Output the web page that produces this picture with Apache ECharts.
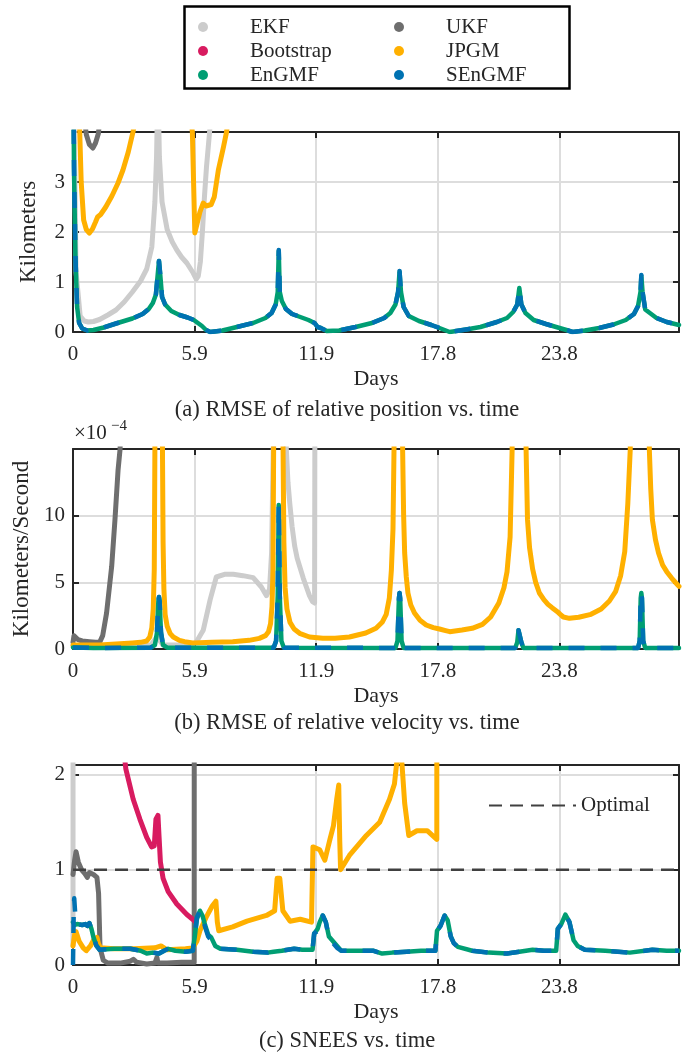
<!DOCTYPE html>
<html><head><meta charset="utf-8">
<script src="https://cdn.jsdelivr.net/npm/echarts@6/dist/echarts.min.js"></script>
<style>html,body{margin:0;padding:0;background:#fff}#c{width:694px;height:1053px}</style>
</head><body><div id="c"></div><script>
// ---------- axis ticks ----------
const xTickValues = [0, 5.94, 11.88, 17.82, 23.76];
const xTickLabels = ['0', '5.9', '11.9', '17.8', '23.8'];
const xMax = 29.6;
const posYTicks = [0, 1, 2, 3];
const velYTicks = [0, 5, 10];
const sneesYTicks = [0, 1, 2];
const captions = ['(a) RMSE of relative position vs. time', '(b) RMSE of relative velocity vs. time', '(c) SNEES vs. time'];
const seriesNames = ['EKF', 'UKF', 'Bootstrap', 'JPGM', 'EnGMF', 'SEnGMF'];

// ---------- (a) RMSE of relative position [km] ----------
const ekfPos = [[0,6],[0.15,1.2],[0.35,0.32],[0.55,0.22],[0.75,0.2],[1.0,0.21],[1.3,0.25],[1.7,0.34],[2.1,0.44],[2.5,0.6],[2.9,0.8],[3.3,1.02],[3.6,1.26],[3.85,1.7],[4.0,2.6],[4.08,3.5],[4.15,5.0],[4.22,3.5],[4.35,2.6],[4.6,2.05],[4.85,1.8],[5.07,1.64],[5.3,1.5],[5.56,1.38],[5.87,1.18],[6.02,1.06],[6.12,1.12],[6.22,1.4],[6.32,2.0],[6.42,2.7],[6.52,3.3],[6.65,3.9],[6.8,4.6],[7.0,6]];
const ukfPos = [[0,10],[0.55,4.3],[0.65,3.95],[0.8,3.75],[0.97,3.68],[1.1,3.78],[1.24,3.97],[1.35,4.4],[1.6,10]];
const jpgmPos = [[0,8],[0.3,4.4],[0.4,3.0],[0.52,2.24],[0.65,2.05],[0.8,1.98],[0.95,2.06],[1.1,2.2],[1.2,2.3],[1.35,2.35],[1.6,2.5],[1.9,2.72],[2.2,2.98],[2.44,3.24],[2.7,3.6],[2.93,4.0],[3.2,4.6],[5.7,4.6],[5.83,4.0],[5.95,1.98],[6.2,2.4],[6.36,2.58],[6.5,2.52],[6.75,2.55],[6.9,2.7],[7.1,3.24],[7.35,3.7],[7.5,4.0],[7.8,5]];
const engmfPos = [[0,6],[0.05,3.2],[0.12,1.5],[0.2,0.5],[0.3,0.18],[0.45,0.07],[0.7,0.03],[1.0,0.04],[1.5,0.09],[2.1,0.17],[2.9,0.27],[3.4,0.36],[3.7,0.46],[3.9,0.58],[4.05,0.75],[4.15,1.2],[4.2,1.42],[4.25,1.2],[4.35,0.7],[4.5,0.55],[4.8,0.42],[5.2,0.34],[5.6,0.29],[5.9,0.24],[6.1,0.18],[6.3,0.12],[6.5,0.04],[6.7,0.0],[7.3,0.03],[8.0,0.1],[8.8,0.18],[9.4,0.28],[9.7,0.38],[9.9,0.55],[10.0,0.8],[10.05,1.62],[10.1,0.8],[10.2,0.62],[10.4,0.46],[10.7,0.36],[11.1,0.3],[11.5,0.24],[11.8,0.18],[11.95,0.1],[12.1,0.08],[12.4,0.02],[13.0,0.03],[13.8,0.1],[14.6,0.18],[15.2,0.28],[15.5,0.38],[15.75,0.55],[15.88,0.8],[15.95,1.2],[16.02,0.8],[16.15,0.5],[16.4,0.32],[16.9,0.22],[17.5,0.14],[17.9,0.08],[18.4,0.0],[19.2,0.05],[19.9,0.1],[20.7,0.2],[21.2,0.28],[21.5,0.4],[21.7,0.55],[21.8,0.88],[21.9,0.55],[22.1,0.38],[22.5,0.24],[23.1,0.16],[23.6,0.1],[24.1,0.04],[24.4,0.0],[25.0,0.03],[25.7,0.08],[26.4,0.15],[27.0,0.24],[27.4,0.36],[27.6,0.52],[27.72,0.8],[27.76,1.12],[27.82,0.8],[27.95,0.45],[28.5,0.28],[29.0,0.2],[29.6,0.14]];
const sengmfPos = [[0,6],[0.05,3.3],[0.12,1.5],[0.2,0.5],[0.3,0.18],[0.45,0.07],[0.7,0.03],[1.0,0.04],[1.5,0.09],[2.1,0.17],[2.9,0.27],[3.4,0.36],[3.7,0.46],[3.9,0.58],[4.05,0.75],[4.15,1.2],[4.2,1.42],[4.25,1.2],[4.35,0.7],[4.5,0.55],[4.8,0.42],[5.2,0.34],[5.6,0.29],[5.9,0.24],[6.1,0.2],[6.3,0.12],[6.5,0.04],[6.7,0.0],[7.3,0.03],[8.0,0.1],[8.8,0.18],[9.4,0.28],[9.7,0.38],[9.9,0.55],[10.0,0.8],[10.05,1.64],[10.1,0.8],[10.2,0.62],[10.4,0.46],[10.7,0.36],[11.1,0.3],[11.5,0.24],[11.8,0.18],[11.95,0.1],[12.1,0.08],[12.4,0.02],[13.0,0.03],[13.8,0.1],[14.6,0.18],[15.2,0.28],[15.5,0.38],[15.75,0.55],[15.88,0.8],[15.95,1.22],[16.02,0.8],[16.15,0.5],[16.4,0.32],[16.9,0.22],[17.5,0.14],[17.9,0.08],[18.4,0.0],[19.2,0.05],[19.9,0.1],[20.7,0.2],[21.2,0.28],[21.5,0.4],[21.7,0.55],[21.8,0.88],[21.9,0.55],[22.1,0.38],[22.5,0.24],[23.1,0.16],[23.6,0.1],[24.1,0.04],[24.4,0.0],[25.0,0.03],[25.7,0.08],[26.4,0.15],[27.0,0.24],[27.4,0.36],[27.6,0.52],[27.72,0.8],[27.76,1.14],[27.82,0.8],[27.95,0.45],[28.5,0.28],[29.0,0.2],[29.6,0.14]];

// ---------- (b) RMSE of relative velocity [x1e-4 km/s] ----------
const ekfVel = [[0,0.2],[2.0,0.2],[3.8,0.3],[4.1,0.9],[4.4,0.3],[5.8,0.3],[6.03,0.55],[6.36,1.4],[6.7,3.7],[7.0,5.4],[7.4,5.6],[7.83,5.6],[8.3,5.5],[8.8,5.35],[9.2,4.65],[9.45,4.0],[9.6,4.5],[9.7,7.2],[9.78,15],[9.85,40],[10.38,40],[10.42,15],[10.5,12.5],[10.59,10.9],[10.7,9.2],[10.83,7.7],[10.95,6.8],[11.07,6.2],[11.25,5.3],[11.4,4.65],[11.55,4.0],[11.7,3.55],[11.8,3.45],[11.84,40]];
const ukfVel = [[0,0.5],[0.05,1.0],[0.12,1.15],[0.25,0.7],[0.45,0.6],[0.8,0.55],[1.1,0.5],[1.3,0.5],[1.45,1.0],[1.64,2.7],[1.89,6.2],[2.05,9.7],[2.2,13.4],[2.3,15],[2.5,25]];
const jpgmVel = [[0,0.3],[1.3,0.3],[2.9,0.45],[3.3,0.5],[3.6,0.6],[3.75,0.9],[3.85,1.6],[3.92,3.0],[3.97,6],[4.0,15],[4.03,40],[4.34,40],[4.37,15],[4.4,8],[4.44,4.5],[4.5,2.6],[4.6,1.7],[4.75,1.15],[4.9,0.9],[5.2,0.65],[5.45,0.55],[5.85,0.45],[6.8,0.5],[7.8,0.55],[8.6,0.65],[9.1,0.8],[9.4,1.0],[9.55,1.3],[9.65,1.9],[9.72,3.2],[9.77,6],[9.8,15],[9.83,40],[10.23,40],[10.26,15],[10.3,8],[10.36,4.6],[10.45,3.0],[10.6,2.0],[10.8,1.5],[11.1,1.15],[11.55,0.9],[12.2,0.8],[12.8,0.8],[13.5,0.9],[14.3,1.2],[14.8,1.55],[15.1,2.0],[15.3,2.6],[15.45,3.8],[15.55,5.9],[15.63,9],[15.68,15],[15.72,40],[16.08,40],[16.1,15],[16.15,10],[16.2,7.2],[16.28,5.4],[16.36,4.2],[16.5,3.3],[16.68,2.7],[16.95,2.15],[17.25,1.8],[17.6,1.6],[17.9,1.5],[18.2,1.38],[18.4,1.3],[19.0,1.42],[19.5,1.55],[20.0,1.85],[20.4,2.4],[20.8,3.45],[21.05,4.6],[21.2,5.8],[21.35,8.4],[21.45,15],[21.48,40],[22.1,40],[22.13,15],[22.2,9.7],[22.3,7.6],[22.45,6.0],[22.6,5.0],[22.78,4.2],[23.0,3.7],[23.2,3.35],[23.4,3.1],[23.66,2.8],[23.8,2.6],[23.95,2.4],[24.25,2.3],[24.7,2.38],[25.3,2.6],[25.8,3.0],[26.2,3.6],[26.5,4.3],[26.75,5.5],[26.95,7.3],[27.1,10.9],[27.22,15],[27.26,40],[28.12,40],[28.15,15],[28.22,12],[28.3,9.7],[28.45,8.2],[28.6,7.2],[28.8,6.3],[29.0,5.8],[29.25,5.3],[29.45,4.95],[29.6,4.7]];
const engmfVel = [[0,0.12],[1.0,0.08],[3.8,0.1],[4.0,0.3],[4.1,1.2],[4.17,3.6],[4.2,3.9],[4.23,3.6],[4.3,1.2],[4.4,0.3],[4.6,0.1],[9.8,0.1],[9.92,0.6],[10.0,4],[10.05,10.8],[10.1,4],[10.18,0.6],[10.3,0.1],[15.75,0.08],[15.85,0.6],[15.92,3.8],[15.95,4.2],[15.98,3.8],[16.05,0.6],[16.15,0.08],[21.6,0.08],[21.7,0.5],[21.76,1.4],[21.8,1.55],[21.84,1.4],[21.9,0.5],[22.0,0.08],[27.6,0.08],[27.68,0.6],[27.73,3.8],[27.76,4.2],[27.79,3.8],[27.85,0.6],[27.95,0.08],[29.6,0.07]];
const sengmfVel = [[0,0.12],[1.0,0.08],[3.8,0.1],[4.0,0.3],[4.1,1.2],[4.17,3.6],[4.2,3.9],[4.23,3.6],[4.3,1.2],[4.4,0.3],[4.6,0.1],[9.8,0.1],[9.92,0.6],[10.0,4],[10.05,10.8],[10.1,4],[10.18,0.6],[10.3,0.1],[15.75,0.08],[15.85,0.6],[15.92,3.8],[15.95,4.2],[15.98,3.8],[16.05,0.6],[16.15,0.08],[21.6,0.08],[21.7,0.5],[21.76,1.4],[21.8,1.55],[21.84,1.4],[21.9,0.5],[22.0,0.08],[27.6,0.08],[27.68,0.6],[27.73,3.8],[27.76,4.2],[27.79,3.8],[27.85,0.6],[27.95,0.08],[29.6,0.07]];

// ---------- (c) SNEES ----------
const optimalSnees = [[0,1],[29.6,1]];
const ekfSnees = [[0,0.2],[0.04,40]];
const ukfSnees = [[0,0.95],[0.08,1.1],[0.15,1.19],[0.26,1.08],[0.42,1.0],[0.58,0.96],[0.7,0.92],[0.8,0.97],[1.0,0.95],[1.17,0.92],[1.25,0.75],[1.32,0.18],[1.48,0.05],[1.7,0.02],[2.3,0.02],[2.8,0.04],[2.95,0.06],[3.1,0.03],[3.6,0.01],[4.0,0.02],[4.1,0.08],[4.15,0.02],[4.6,0.02],[5.3,0.03],[5.92,0.03],[5.95,40]];
const bootstrapSnees = [[2.3,2.6],[2.58,2.06],[2.94,1.74],[3.27,1.53],[3.6,1.34],[3.84,1.24],[3.97,1.25],[4.05,1.53],[4.15,1.57],[4.2,1.36],[4.27,1.08],[4.4,0.91],[4.65,0.77],[5.07,0.64],[5.56,0.53],[5.96,0.46]];
const jpgmSnees = [[0,0.2],[0.08,0.32],[0.15,0.35],[0.3,0.25],[0.5,0.18],[0.65,0.15],[0.85,0.2],[1.0,0.26],[1.17,0.29],[1.25,0.22],[1.35,0.18],[2.0,0.17],[3.0,0.17],[4.0,0.18],[4.3,0.2],[4.6,0.16],[5.5,0.17],[5.85,0.18],[6.05,0.25],[6.2,0.36],[6.5,0.5],[6.8,0.62],[6.98,0.67],[7.05,0.45],[7.12,0.36],[7.8,0.4],[8.5,0.46],[9.45,0.52],[9.85,0.57],[9.97,0.91],[10.1,0.91],[10.25,0.57],[10.6,0.46],[11.1,0.48],[11.65,0.45],[11.72,1.24],[12.05,1.21],[12.3,1.1],[12.55,1.32],[12.72,1.46],[12.88,1.74],[12.98,1.89],[13.03,1.3],[13.07,1.0],[13.5,1.15],[14.33,1.36],[14.98,1.5],[15.46,1.74],[15.7,1.9],[15.85,2.2],[16.04,2.2],[16.2,1.7],[16.4,1.36],[16.8,1.41],[17.3,1.41],[17.77,1.32],[17.8,40]];
const engmfSnees = [[0,0.45],[0.08,0.42],[0.2,0.43],[0.45,0.42],[0.6,0.43],[0.7,0.41],[0.8,0.44],[0.9,0.38],[1.0,0.29],[1.15,0.2],[1.3,0.16],[2.0,0.17],[2.8,0.17],[3.3,0.15],[3.6,0.12],[3.9,0.13],[4.2,0.12],[4.45,0.15],[4.65,0.17],[5.0,0.15],[5.5,0.14],[5.85,0.15],[5.95,0.3],[6.05,0.48],[6.2,0.57],[6.32,0.52],[6.45,0.42],[6.6,0.32],[6.75,0.29],[6.95,0.2],[7.2,0.17],[8.0,0.16],[8.8,0.14],[9.5,0.13],[9.8,0.14],[10.2,0.15],[10.8,0.17],[11.2,0.16],[11.7,0.16],[11.78,0.33],[11.95,0.38],[12.05,0.45],[12.2,0.52],[12.35,0.45],[12.5,0.3],[12.7,0.25],[12.9,0.2],[13.1,0.15],[14.0,0.15],[14.65,0.15],[15.1,0.12],[15.6,0.13],[16.3,0.14],[17.0,0.15],[17.7,0.15],[17.78,0.36],[17.95,0.41],[18.15,0.52],[18.3,0.47],[18.45,0.3],[18.6,0.23],[18.8,0.19],[19.5,0.15],[20.3,0.13],[21.2,0.12],[21.8,0.14],[22.45,0.16],[23.0,0.15],[23.6,0.15],[23.68,0.38],[23.85,0.43],[24.05,0.53],[24.25,0.45],[24.45,0.26],[24.65,0.2],[25.0,0.16],[26.0,0.15],[27.2,0.13],[28.3,0.16],[29.0,0.15],[29.6,0.15]];
const sengmfSnees = [[0,0.0],[0.03,0.5],[0.06,0.7],[0.14,0.43],[0.2,0.43],[0.45,0.42],[0.6,0.43],[0.7,0.41],[0.8,0.44],[0.9,0.38],[1.0,0.29],[1.15,0.2],[1.3,0.16],[2.0,0.17],[2.8,0.17],[3.3,0.15],[3.6,0.12],[3.9,0.13],[4.2,0.12],[4.45,0.15],[4.65,0.17],[5.0,0.15],[5.5,0.14],[5.85,0.15],[5.95,0.3],[6.05,0.5],[6.2,0.57],[6.32,0.52],[6.45,0.4],[6.6,0.3],[6.75,0.26],[6.95,0.18],[7.2,0.17],[8.0,0.16],[8.8,0.14],[9.5,0.13],[9.8,0.14],[10.2,0.15],[10.8,0.17],[11.2,0.16],[11.7,0.16],[11.78,0.33],[11.95,0.36],[12.05,0.45],[12.2,0.52],[12.35,0.45],[12.5,0.28],[12.7,0.23],[12.9,0.18],[13.1,0.15],[14.0,0.15],[14.65,0.15],[15.1,0.12],[15.6,0.13],[16.3,0.14],[17.0,0.15],[17.7,0.15],[17.78,0.36],[17.95,0.41],[18.15,0.52],[18.3,0.47],[18.45,0.3],[18.6,0.23],[18.8,0.19],[19.5,0.15],[20.3,0.13],[21.2,0.12],[21.8,0.14],[22.45,0.16],[23.0,0.15],[23.6,0.15],[23.68,0.38],[23.85,0.43],[24.05,0.53],[24.25,0.45],[24.45,0.26],[24.65,0.2],[25.0,0.16],[26.0,0.15],[27.2,0.13],[28.3,0.16],[29.0,0.15],[29.6,0.15]];

// ---------- styles ----------
const FONT = "'Liberation Serif','DejaVu Serif',serif";
const INK = '#262626';
const colors = {EKF:'#cccccc', UKF:'#6e6e6e', Bootstrap:'#d81b60', JPGM:'#ffb000', EnGMF:'#009e73', SEnGMF:'#0072b2'};
const GRID_TOPS = [132, 449, 765];

function near(list, v){ for (const t of list) if (Math.abs(v - t) < 1e-6) return true; return false; }
function xLabel(v){ for (let i=0;i<xTickValues.length;i++) if (Math.abs(v-xTickValues[i])<1e-6) return xTickLabels[i]; return ''; }

const grid = GRID_TOPS.map(t => ({left:73, width:606, top:t, height:200, containLabel:false}));

const xAxis = [], yAxis = [];
const yCfg = [
  {max:4, interval:1, ticks:posYTicks, name:'Kilometers', gap:33},
  {max:15, interval:5, ticks:velYTicks, name:'Kilometers/Second', gap:36},
  {max:2.1, interval:1, ticks:sneesYTicks, name:'', gap:30}
];
for (let g=0; g<3; g++){
  for (const top of [false, true]){
    xAxis.push({type:'value', gridIndex:g, min:0, max:xMax, interval:5.94, position: top?'top':'bottom',
      axisLine:{show:true, onZero:false, lineStyle:{color:INK, width:2}},
      axisTick:{show:true, inside:true, length:6, lineStyle:{color:INK, width:2}},
      axisLabel:{show:!top, margin:12, formatter:xLabel, fontFamily:FONT, fontSize:21, color:INK},
      splitLine:{show:!top, lineStyle:{color:'#dddddd', width:2}},
      name: top?'':'Days', nameLocation:'middle', nameGap:36,
      nameTextStyle:{fontFamily:FONT, fontSize:22, color:INK}
    });
    const c = yCfg[g];
    yAxis.push({type:'value', gridIndex:g, min:0, max:c.max, interval:c.interval, position: top?'right':'left',
      axisLine:{show:true, onZero:false, lineStyle:{color:INK, width:2}},
      axisTick:{show:true, inside:true, length:6, lineStyle:{color:INK, width:2}},
      axisLabel:{show:!top, margin:8, formatter:(v)=> near(c.ticks, v) ? String(v) : '', fontFamily:FONT, fontSize:21, color:INK},
      splitLine:{show:!top, lineStyle:{color:'#dddddd', width:2}},
      name: top?'':c.name, nameLocation:'middle', nameGap:c.gap, nameRotate:90,
      nameTextStyle:{fontFamily:FONT, fontSize:23, color:INK}
    });
  }
}

function line(name, data, g, extra){
  return Object.assign({type:'line', name, data, xAxisIndex:2*g, yAxisIndex:2*g, symbol:'none', clip:true,
    animation:false, silent:true,
    lineStyle:{color:colors[name], width:5, cap:'round', join:'round'}, itemStyle:{color:colors[name]}}, extra||{});
}
const dashed = {lineStyle:{color:colors.SEnGMF, width:4.5, type:[16,16], cap:'butt', join:'round'}};
const solidGreen = {lineStyle:{color:colors.EnGMF, width:4.5, cap:'round', join:'round'}};

const series = [
  line('EKF', ekfPos, 0), line('UKF', ukfPos, 0), line('JPGM', jpgmPos, 0),
  line('EnGMF', engmfPos, 0, solidGreen), line('SEnGMF', sengmfPos, 0, dashed),
  line('EKF', ekfVel, 1), line('UKF', ukfVel, 1), line('JPGM', jpgmVel, 1),
  line('EnGMF', engmfVel, 1, solidGreen), line('SEnGMF', sengmfVel, 1, dashed),
  {type:'line', name:'Optimal', data:optimalSnees, xAxisIndex:4, yAxisIndex:4, symbol:'none', animation:false, silent:true,
   lineStyle:{color:'#404040', width:2.5, type:[13,8]}, itemStyle:{color:'#404040'}, z:5},
  line('EKF', ekfSnees, 2), line('UKF', ukfSnees, 2), line('Bootstrap', bootstrapSnees, 2), line('JPGM', jpgmSnees, 2),
  line('EnGMF', engmfSnees, 2, solidGreen), line('SEnGMF', sengmfSnees, 2, dashed)
];

const legendText = {fontFamily:FONT, fontSize:21, color:INK, lineHeight:22};
const option = {
  backgroundColor:'#ffffff',
  animation:false,
  grid, xAxis, yAxis, series,
  title: captions.map((t,i)=>({text:t, left:'center', top:[394,707,1025][i], textStyle:{fontFamily:FONT, fontSize:22.5, fontWeight:'normal', color:INK}})),
  legend:[
    {data:[seriesNames[0], seriesNames[2], seriesNames[4]], orient:'vertical', left:193, top:11, icon:'circle', itemWidth:84, itemHeight:10, itemGap:2, textStyle:legendText, selectedMode:false},
    {data:[seriesNames[1], seriesNames[3], seriesNames[5]], orient:'vertical', left:389, top:11, icon:'circle', itemWidth:84, itemHeight:10, itemGap:2, textStyle:legendText, selectedMode:false},
    {data:['Optimal'], left:483, top:790, itemWidth:87, itemHeight:14, itemStyle:{opacity:0}, textStyle:{fontFamily:FONT, fontSize:21, color:INK}, selectedMode:false}
  ],
  graphic:[
    {type:'rect', left:182, top:4, shape:{width:385, height:82}, style:{fill:'none', stroke:'#000', lineWidth:2.5}, z:-1},
    {type:'text', left:74, top:423, style:{text:'×10', font:"21px 'Liberation Serif', serif", fill:INK}},
    {type:'text', left:111, top:419, style:{text:'−4', font:"15px 'Liberation Serif', serif", fill:INK}}
  ]
};
const chart = echarts.init(document.getElementById('c'), null, {renderer:'canvas'});
chart.setOption(option);
</script></body></html>
